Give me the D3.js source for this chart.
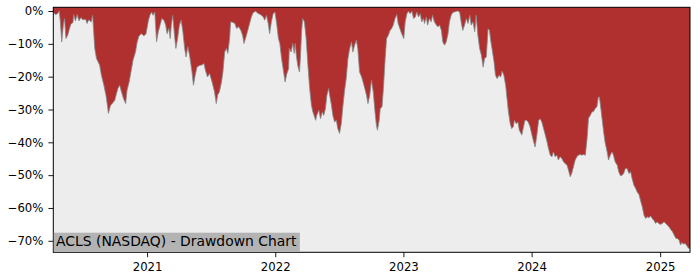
<!DOCTYPE html>
<html>
<head>
<meta charset="utf-8">
<script src="https://cdnjs.cloudflare.com/ajax/libs/d3/7.8.5/d3.min.js"></script>
<style>
  body { margin: 0; background: #fff; }
  svg { display: block; font-family: "DejaVu Sans", sans-serif; }
</style>
</head>
<body>
<svg width="700" height="280"></svg>
<script>
// drawdown series (percent below running peak)
var dates = [
  "2020-04-09","2020-04-15","2020-04-21","2020-04-26","2020-04-29","2020-05-03","2020-05-08","2020-05-11","2020-05-15","2020-05-20",
  "2020-05-25","2020-05-29","2020-06-04","2020-06-06","2020-06-11","2020-06-16","2020-06-21","2020-06-27","2020-07-02","2020-07-10",
  "2020-07-14","2020-07-19","2020-07-26","2020-07-30","2020-08-05","2020-08-10","2020-08-19","2020-08-24","2020-08-31","2020-09-06",
  "2020-09-10","2020-09-13","2020-09-19","2020-09-24","2020-10-01","2020-10-06","2020-10-10","2020-10-15","2020-10-20","2020-10-26",
  "2020-11-01","2020-11-05","2020-11-11","2020-11-16","2020-11-22","2020-11-29","2020-12-04","2020-12-09","2020-12-16","2020-12-23",
  "2020-12-29","2021-01-05","2021-01-09","2021-01-14","2021-01-18","2021-01-23","2021-01-28","2021-02-02","2021-02-07","2021-02-12",
  "2021-02-18","2021-02-23","2021-02-27","2021-03-04","2021-03-08","2021-03-11","2021-03-15","2021-03-21","2021-03-24","2021-03-29",
  "2021-04-03","2021-04-08","2021-04-13","2021-04-18","2021-04-22","2021-04-27","2021-05-02","2021-05-09","2021-05-13","2021-05-18",
  "2021-05-23","2021-05-30","2021-06-07","2021-06-12","2021-06-16","2021-06-22","2021-06-28","2021-07-05","2021-07-12","2021-07-17",
  "2021-07-21","2021-07-26","2021-08-01","2021-08-05","2021-08-10","2021-08-15","2021-08-19","2021-08-24","2021-08-27","2021-09-03",
  "2021-09-08","2021-09-13","2021-09-19","2021-09-25","2021-09-30","2021-10-04","2021-10-11","2021-10-16","2021-10-20","2021-10-25",
  "2021-10-30","2021-11-06","2021-11-14","2021-11-20","2021-11-28","2021-12-02","2021-12-07","2021-12-12","2021-12-16","2021-12-21",
  "2021-12-26","2021-12-31","2022-01-05","2022-01-10","2022-01-14","2022-01-19","2022-01-24","2022-01-29","2022-02-03","2022-02-08",
  "2022-02-10","2022-02-15","2022-02-20","2022-02-24","2022-02-27","2022-03-02","2022-03-06","2022-03-11","2022-03-14","2022-03-17",
  "2022-03-20","2022-03-25","2022-03-30","2022-04-04","2022-04-09","2022-04-14","2022-04-18","2022-04-26","2022-04-29","2022-05-05",
  "2022-05-10","2022-05-15","2022-05-19","2022-05-24","2022-05-28","2022-06-02","2022-06-05","2022-06-10","2022-06-14","2022-06-19",
  "2022-06-24","2022-06-28","2022-07-03","2022-07-08","2022-07-12","2022-07-17","2022-07-22","2022-07-27","2022-08-01","2022-08-06",
  "2022-08-10","2022-08-15","2022-08-20","2022-08-24","2022-08-29","2022-09-04","2022-09-08","2022-09-13","2022-09-18","2022-09-22",
  "2022-09-27","2022-10-02","2022-10-07","2022-10-12","2022-10-16","2022-10-19","2022-10-24","2022-10-27","2022-11-01","2022-11-05",
  "2022-11-10","2022-11-14","2022-11-19","2022-11-24","2022-11-28","2022-12-03","2022-12-08","2022-12-13","2022-12-17","2022-12-22",
  "2022-12-27","2023-01-02","2023-01-06","2023-01-11","2023-01-15","2023-01-20","2023-01-25","2023-01-30","2023-02-04","2023-02-08",
  "2023-02-13","2023-02-18","2023-02-22","2023-02-27","2023-03-02","2023-03-07","2023-03-11","2023-03-16","2023-03-21","2023-03-25",
  "2023-03-30","2023-04-05","2023-04-09","2023-04-14","2023-04-19","2023-04-23","2023-04-28","2023-05-03","2023-05-08","2023-05-12",
  "2023-05-17","2023-05-21","2023-05-26","2023-06-01","2023-06-05","2023-06-10","2023-06-15","2023-06-19","2023-06-24","2023-06-29",
  "2023-07-04","2023-07-09","2023-07-13","2023-07-18","2023-07-23","2023-07-27","2023-08-01","2023-08-06","2023-08-11","2023-08-16",
  "2023-08-20","2023-08-25","2023-08-30","2023-09-03","2023-09-07","2023-09-11","2023-09-16","2023-09-20","2023-09-25","2023-09-30",
  "2023-10-05","2023-10-09","2023-10-14","2023-10-19","2023-10-23","2023-10-27","2023-11-01","2023-11-05","2023-11-10","2023-11-13",
  "2023-11-18","2023-11-23","2023-11-27","2023-12-04","2023-12-08","2023-12-13","2023-12-18","2023-12-22","2023-12-27","2024-01-02",
  "2024-01-07","2024-01-11","2024-01-16","2024-01-21","2024-01-25","2024-01-30","2024-02-04","2024-02-09","2024-02-14","2024-02-18",
  "2024-02-23","2024-02-28","2024-03-03","2024-03-08","2024-03-13","2024-03-17","2024-03-22","2024-03-27","2024-04-01","2024-04-06",
  "2024-04-11","2024-04-15","2024-04-20","2024-04-24","2024-04-29","2024-05-04","2024-05-09","2024-05-13","2024-05-18","2024-05-23",
  "2024-05-27","2024-06-02","2024-06-07","2024-06-11","2024-06-16","2024-06-21","2024-06-25","2024-06-30","2024-07-05","2024-07-09",
  "2024-07-12","2024-07-15","2024-07-19","2024-07-24","2024-07-28","2024-08-03","2024-08-07","2024-08-12","2024-08-17","2024-08-21",
  "2024-08-26","2024-09-01","2024-09-05","2024-09-10","2024-09-15","2024-09-19","2024-09-24","2024-09-29","2024-10-04","2024-10-09",
  "2024-10-13","2024-10-18","2024-10-23","2024-10-27","2024-11-02","2024-11-07","2024-11-11","2024-11-16","2024-11-21","2024-11-25",
  "2024-11-30","2024-12-05","2024-12-09","2024-12-14","2024-12-19","2024-12-23","2024-12-28","2025-01-02","2025-01-07","2025-01-12",
  "2025-01-17","2025-01-21","2025-01-26","2025-02-01","2025-02-05","2025-02-10","2025-02-15","2025-02-19","2025-02-24","2025-02-28",
  "2025-03-04","2025-03-08","2025-03-13","2025-03-18","2025-03-22","2025-03-27"
];
var drawdown = [
  -0.3,-1.1,-0.8,0,-3.3,-9.4,-3.9,-2.3,-8.4,-7.4,
  -5.4,-4.0,-3.5,-1.1,-3.0,-1.1,-3.0,-2.0,-2.7,-2.5,
  -3.8,-2.7,-3.3,-1.3,-11.4,-14.5,-16.5,-19.6,-22.6,-25.7,
  -28.7,-31.2,-28.7,-28.2,-27.2,-25.1,-23.6,-22.6,-24.6,-26.7,
  -28.2,-24.1,-21.6,-18.6,-15.0,-12.5,-9.4,-7.6,-6.9,-7.6,
  -6.9,-2.8,-1.3,-0.3,-1.3,-0.3,-9.4,-6.3,-4.3,-2.3,
  -2.8,-4.3,-6.9,-5.3,-8.4,-4.3,-1.3,-8.4,-11.4,-8.4,
  -4.3,-2.8,-6.3,-11.4,-14.0,-10.9,-13.5,-18.6,-22.6,-19.6,
  -17.1,-16.6,-16.4,-16.0,-18.0,-20.1,-19.0,-21.6,-24.6,-28.2,
  -25.6,-24.6,-21.6,-18.6,-12.5,-11.4,-12.9,-8.4,-3.3,-3.5,
  -3.8,-5.3,-4.8,-5.9,-7.4,-9.9,-7.4,-5.4,-3.8,-1.8,
  -0.5,-0.1,-0.8,-1.1,-1.8,-2.8,-1.3,-3.8,-6.9,-3.3,
  -0.8,-0.3,-3.8,-8.4,-9.9,-14.5,-18.0,-21.6,-19.1,-17.6,
  -11.4,-12.5,-9.9,-12.9,-9.9,-13.5,-16.6,-18.6,-13.5,-6.3,
  -2.3,-3.3,-8.4,-16.6,-23.6,-28.7,-30.7,-33.3,-31.8,-30.2,
  -32.8,-30.7,-31.8,-29.7,-25.7,-23.6,-25.7,-28.7,-31.8,-33.8,
  -33.3,-35.8,-37.3,-34.3,-29.7,-24.6,-20.6,-14.5,-11.4,-9.4,
  -12.5,-10.4,-8.9,-11.4,-18.6,-20.1,-21.6,-23.6,-25.7,-28.2,
  -25.7,-21.1,-24.6,-30.7,-34.8,-36.3,-33.3,-29.7,-29.2,-23.6,
  -14.5,-8.4,-7.4,-5.9,-5.4,-4.3,-2.3,-1.1,-3.8,-5.4,
  -6.9,-8.4,-3.3,-0.8,-0.1,-0.8,-0.1,-2.3,-1.8,-0.3,
  -1.8,-0.8,-3.3,-2.3,-3.8,-1.8,-4.3,-2.3,-3.3,-1.3,
  -3.3,-4.3,-4.8,-4.3,-5.9,-9.4,-10.4,-9.4,-6.9,-3.3,
  -1.3,-0.5,-0.3,-0.1,0,-0.3,-3.8,-5.9,-4.3,-2.3,
  -3.8,-1.3,-4.3,-3.3,-6.3,-1.3,-7.4,-11.4,-13.5,-17.1,
  -14.5,-14.0,-5.4,-5.9,-9.4,-12.0,-15.5,-19.6,-20.6,-19.6,
  -20.1,-18.3,-19.6,-22.6,-26.7,-30.7,-34.3,-35.8,-35.3,-33.3,
  -34.3,-33.8,-36.3,-37.8,-35.8,-33.3,-33.3,-33.8,-35.0,-37.8,
  -39.9,-41.4,-37.8,-33.3,-32.8,-33.8,-35.8,-37.8,-39.9,-41.9,
  -43.9,-44.4,-42.9,-44.4,-43.9,-45.4,-44.4,-44.9,-46.0,-46.5,
  -47.0,-48.5,-50.5,-49.5,-47.5,-45.4,-44.4,-43.9,-43.7,-43.9,
  -43.7,-43.9,-38.8,-32.7,-31.8,-30.7,-30.7,-29.7,-29.2,-26.2,
  -26.2,-28.7,-32.3,-36.8,-39.9,-42.9,-45.4,-43.9,-42.9,-43.9,
  -46.0,-47.0,-49.0,-50.2,-50.0,-49.5,-48.0,-48.0,-49.5,-49.0,
  -51.0,-53.0,-54.0,-55.0,-56.0,-58.1,-59.6,-62.2,-63.2,-62.7,
  -63.0,-62.4,-63.2,-63.7,-64.7,-64.2,-64.7,-65.0,-64.7,-64.2,
  -64.7,-65.2,-65.7,-66.7,-67.2,-68.3,-69.3,-69.3,-69.8,-71.3,
  -70.5,-71.0,-70.8,-71.5,-72.2,-72.4
];
var yTicks = [0, -10, -20, -30, -40, -50, -60, -70];
var xTicks = ["2021-01-01", "2022-01-01", "2023-01-01", "2024-01-01", "2025-01-01"];
var title = "ACLS (NASDAQ) - Drawdown Chart";

var parse = d3.timeParse("%Y-%m-%d");
var data = dates.map(function(d, i) { return {date: parse(d), dd: drawdown[i]}; });

var svg = d3.select("svg"),
    margin = {top: 7.3, right: 10, bottom: 27.7, left: 53.3},
    width = +svg.attr("width") - margin.left - margin.right,
    height = +svg.attr("height") - margin.top - margin.bottom,
    g = svg.append("g").attr("transform", "translate(" + margin.left + "," + margin.top + ")");

var x = d3.scaleTime()
    .domain(d3.extent(data, function(d) { return d.date; }))
    .range([0, width]);

var y = d3.scaleLinear()
    .domain([-73.5, 1.13])
    .range([height, 0]);

g.append("rect")
    .attr("width", width)
    .attr("height", height)
    .attr("fill", "#ededed");

var area = d3.area()
    .x(function(d) { return x(d.date); })
    .y0(0)
    .y1(function(d) { return y(d.dd); });

var line = d3.line()
    .x(function(d) { return x(d.date); })
    .y(function(d) { return y(d.dd); });

g.append("path")
    .attr("fill", "#b03030")
    .attr("d", area(data));

g.append("path")
    .attr("fill", "none")
    .attr("stroke", "#888")
    .attr("stroke-width", 1)
    .attr("stroke-opacity", 0.8)
    .attr("d", line(data));

// axes
var fmt = d3.format(".0f");
var yAxis = g.append("g")
    .call(d3.axisLeft(y).tickValues(yTicks).tickSize(4.9).tickPadding(5)
      .tickFormat(function(d) { return fmt(d) + "%"; }));

var xAxis = g.append("g")
    .attr("transform", "translate(0," + height + ")")
    .call(d3.axisBottom(x).tickValues(xTicks.map(parse)).tickSize(4.9).tickPadding(5.2)
      .tickFormat(d3.timeFormat("%Y")));

[yAxis, xAxis].forEach(function(a) {
  a.select(".domain").remove();
  a.selectAll("text").attr("font-size", "11.7px").attr("font-family", "DejaVu Sans").attr("fill", "#000");
  a.selectAll("line").attr("stroke", "#000").attr("stroke-width", 0.9);
});

// frame
g.append("rect")
    .attr("width", width)
    .attr("height", height)
    .attr("fill", "none")
    .attr("stroke", "#000")
    .attr("stroke-width", 1);

// label box
var label = g.append("g");
var lt = label.append("text")
    .attr("x", 2.8)
    .attr("y", height - 5.9)
    .attr("font-size", "13.9px")
    .attr("fill", "#000")
    .text(title);
var bb = lt.node().getBBox();
label.insert("rect", "text")
    .attr("x", 0.5)
    .attr("y", height - 19.6)
    .attr("width", bb.width + 5.2)
    .attr("height", 19.1)
    .attr("fill", "#b3b3b3");
</script>
</body>
</html>
